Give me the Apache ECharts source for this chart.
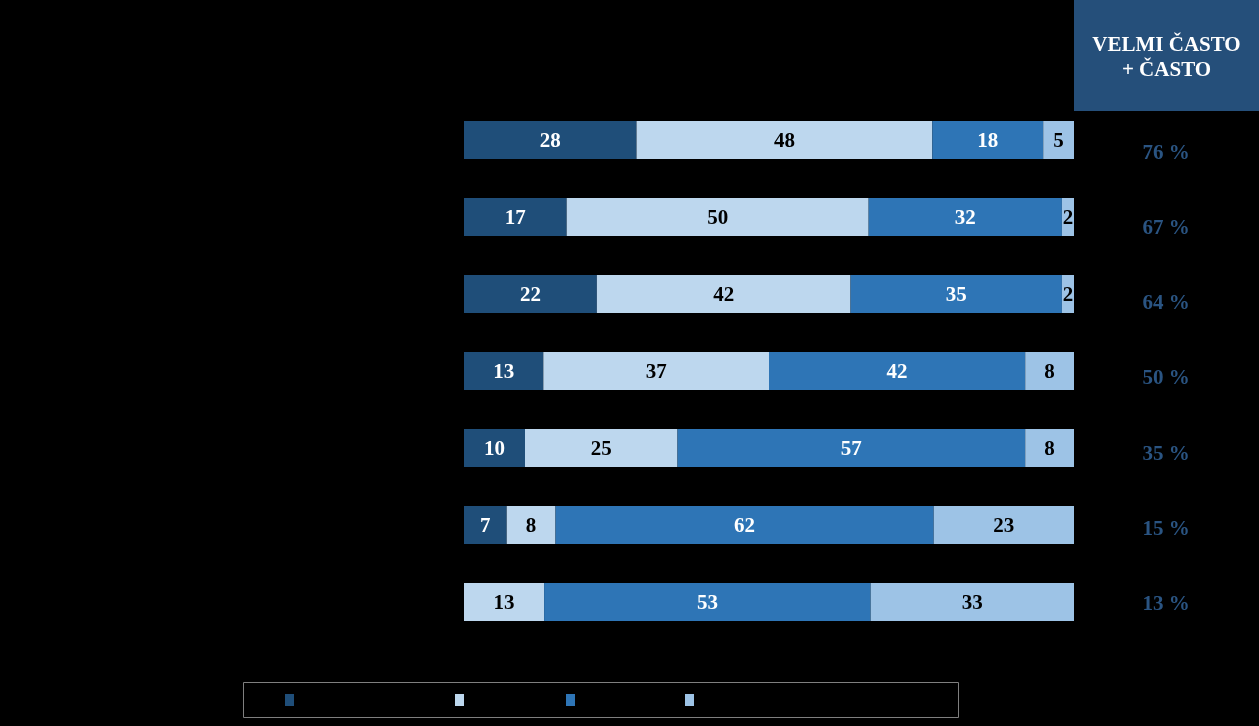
<!DOCTYPE html>
<html>
<head>
<meta charset="utf-8">
<script src="https://cdn.jsdelivr.net/npm/echarts@6/dist/echarts.min.js"></script>
<style>
html,body{margin:0;padding:0;background:#000;}
#chart{width:1259px;height:726px;}
</style>
</head>
<body>
<div id="chart"></div>
<script>
// Row identifiers (the reference's row labels are drawn black on black and cannot be read)
const rows = ['1', '2', '3', '4', '5', '6', '7'];
// Legend names (drawn black on black in the reference)
const seriesNames = ['Velmi často', 'Často', 'Zřídka', 'Nikdy'];
const velmiCasto = [28, 17, 22, 13, 10, 7, 0];
const casto      = [48, 50, 42, 37, 25, 8, 13];
const zridka     = [18, 32, 35, 42, 57, 62, 53];
const nikdy      = [5, 2, 2, 8, 8, 23, 33];
// Right-hand column: VELMI ČASTO + ČASTO
const totals = [76, 67, 64, 50, 35, 15, 13];
const headerText = 'VELMI ČASTO\n+ ČASTO';

const colors = ['#1F4E79', '#BDD7EE', '#2E75B6', '#9DC3E6'];
const labelColors = ['#ffffff', '#000000', '#ffffff', '#000000'];
const raw = [velmiCasto, casto, zridka, nikdy];
const rowSums = rows.map((_, i) => raw.reduce((s, arr) => s + arr[i], 0));
const FONT = '"Liberation Serif", "Times New Roman", serif';

const series = raw.map((arr, k) => ({
  name: seriesNames[k],
  type: 'bar',
  stack: 'all',
  barWidth: 38,
  xAxisIndex: 0,
  yAxisIndex: 0,
  itemStyle: { color: colors[k] },
  label: {
    show: true,
    position: 'inside',
    offset: [0, 2],
    color: labelColors[k],
    fontFamily: FONT,
    fontWeight: 'bold',
    fontSize: 21,
    formatter: p => p.data.raw > 0 ? String(p.data.raw) : ''
  },
  data: arr.map((v, i) => ({ value: v / rowSums[i] * 100, raw: v }))
}));

const legendLefts = [285, 455, 566, 685];
const legends = seriesNames.map((n, k) => ({
  data: [n],
  left: legendLefts[k],
  top: 693,
  itemWidth: 9,
  itemHeight: 12,
  icon: 'rect',
  padding: 0,
  selectedMode: false,
  textStyle: { color: '#000000', fontFamily: FONT, fontSize: 14 }
}));

const chart = echarts.init(document.getElementById('chart'), null, { renderer: 'canvas' });
chart.setOption({
  backgroundColor: '#000000',
  animation: false,
  grid: [
    { left: 464, right: 185, top: 101.5, bottom: 85.5 },
    { left: 1000, width: 74, top: 116, bottom: 84 }
  ],
  xAxis: [
    { type: 'value', min: 0, max: 100, show: false, gridIndex: 0 },
    { type: 'value', min: 0, max: 100, show: false, gridIndex: 1 }
  ],
  yAxis: [
    {
      type: 'category', data: rows, inverse: true, gridIndex: 0,
      axisLine: { show: false }, axisTick: { show: false },
      axisLabel: { show: false }
    },
    {
      type: 'category', data: totals.map(t => t + ' %'), inverse: true,
      gridIndex: 1, position: 'right',
      axisLine: { show: false }, axisTick: { show: false },
      axisLabel: {
        show: true, margin: 92, align: 'center',
        color: '#2A5482', fontFamily: FONT, fontWeight: 'bold', fontSize: 21
      }
    }
  ],
  legend: legends,
  graphic: [
    {
      type: 'rect',
      shape: { x: 243.5, y: 682.5, width: 715, height: 35 },
      style: { fill: 'none', stroke: '#7F7F7F', lineWidth: 1 },
      silent: true
    },
    {
      type: 'rect',
      shape: { x: 1074, y: 0, width: 185, height: 111 },
      style: { fill: '#254F7A' },
      silent: true
    },
    {
      type: 'text', x: 1166.5, y: 33,
      style: {
        text: headerText, fill: '#ffffff', font: 'bold 21px ' + FONT,
        align: 'center', verticalAlign: 'top', lineHeight: 25
      },
      silent: true
    }
  ],
  series: series
});
</script>
</body>
</html>
